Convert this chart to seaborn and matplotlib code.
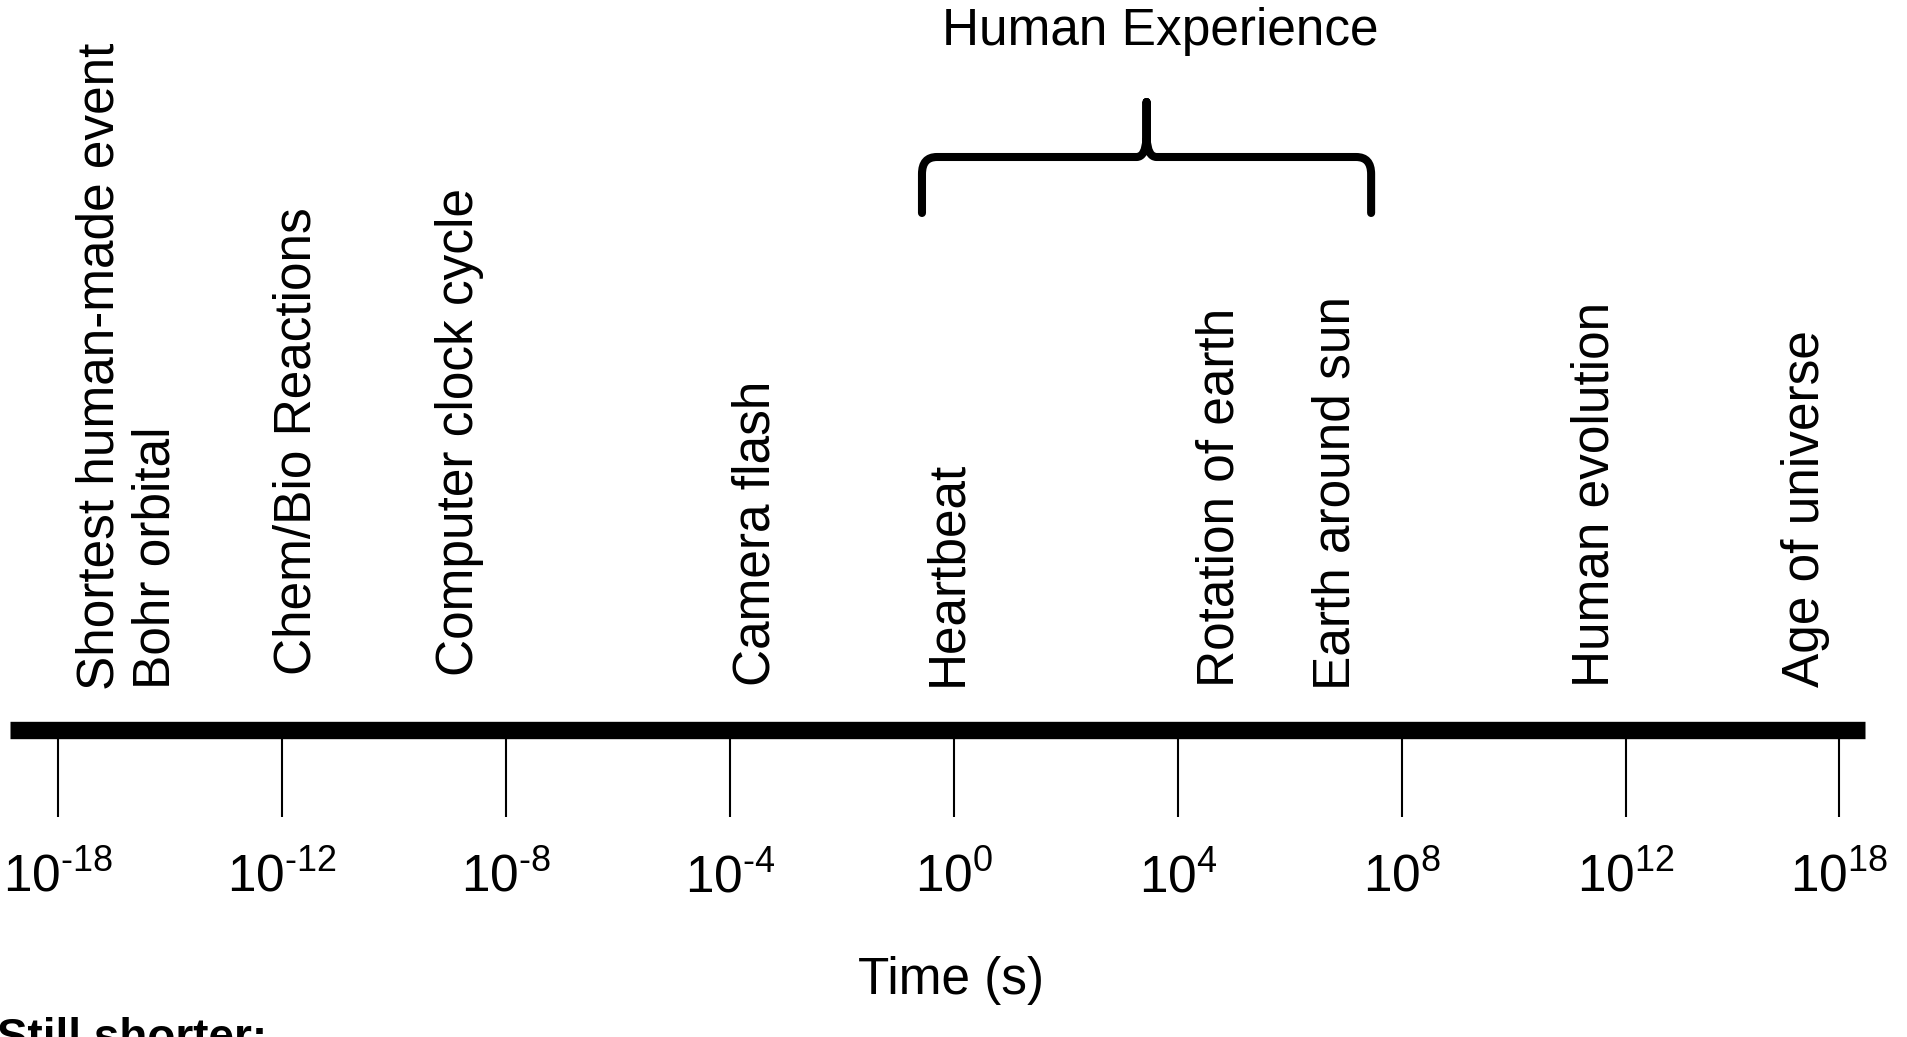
import matplotlib
matplotlib.use("Agg")
import matplotlib.pyplot as plt
import seaborn as sns
import pandas as pd
from matplotlib.path import Path
from matplotlib.patches import PathPatch

# ---------------- data ----------------
tick_exponents = [-18, -12, -8, -4, 0, 4, 8, 12, 18]
tick_slots = [0, 1, 2, 3, 4, 5, 6, 7, 7.953]          # schematic (non-uniform) slots
event_labels = ["Shortest human-made event", "Bohr orbital", "Chem/Bio Reactions",
                "Computer clock cycle", "Camera flash", "Heartbeat",
                "Rotation of earth", "Earth around sun", "Human evolution",
                "Age of universe"]
event_slots = [0.163, 0.414, 1.043, 1.771, 3.093, 3.951, 5.166, 5.684, 6.841, 7.783]
human_span = [3.857, 5.863]
brace_label = "Human Experience"
x_title = "Time (s)"
footnote = "Still shorter:"

# ---------------- layout ----------------
W, H = 1908, 1037
BAR_Y = 730                 # pixel row of the timeline bar
PX = 223.9                  # pixels per slot
X0 = 58.4                   # pixel x of slot 0
AX_L, AX_R = 10, 1865
event_base = [690, 689, 675, 676, 686, 686, 687, 690, 687, 687]
FS = 37

sns.set_theme(style="white")
plt.rcParams["font.family"] = ["Liberation Sans", "DejaVu Sans"]
plt.rcParams["mathtext.fontset"] = "custom"
plt.rcParams["mathtext.rm"] = "Liberation Sans"
plt.rcParams["mathtext.it"] = "Liberation Sans:italic"
plt.rcParams["mathtext.bf"] = "Liberation Sans:bold"


def power_label(e):
    sign = r"\text{-}" if e < 0 else ""
    return r"$\mathregular{10^{%s%d}}$" % (sign, abs(e))


fig = plt.figure(figsize=(W / 100, H / 100), dpi=100, facecolor="white")
ax = fig.add_axes([AX_L / W, 1 - BAR_Y / H, (AX_R - AX_L) / W, BAR_Y / H])
ax.set_facecolor("white")
xlim = ((AX_L - X0) / PX, (AX_R - X0) / PX)

# timeline bar
bar_df = pd.DataFrame({"slot": list(xlim), "y": [BAR_Y, BAR_Y]})
sns.lineplot(data=bar_df, x="slot", y="y", color="black", linewidth=12.5, ax=ax,
             sort=False, estimator=None)
for ln in ax.lines:
    ln.set_clip_on(False)
    ln.set_solid_capstyle("butt")

ax.set_xlim(*xlim)
ax.set_ylim(BAR_Y, 0)
for s in ax.spines.values():
    s.set_visible(False)
ax.set_yticks([])
ax.set_ylabel("")

# ticks & labels
ax.set_xticks(tick_slots, labels=[power_label(e) for e in tick_exponents])
ax.tick_params(axis="x", bottom=True, direction="out", length=62.6, width=1.5,
               color="black", pad=26, labelsize=FS, labelcolor="black")

ax.set_xlabel(x_title, fontsize=FS, color="black")
ax.xaxis.set_label_coords((951 - AX_L) / (AX_R - AX_L), (BAR_Y - 956) / BAR_Y)

# event labels (rotated)
for lab, slot, base in zip(event_labels, event_slots, event_base):
    ax.annotate(lab, xy=(slot, base), xytext=(13.3, 0), textcoords="offset points",
                rotation=90, rotation_mode="anchor", ha="left", va="baseline",
                fontsize=FS, color="black", annotation_clip=False)

# brace
L, R = human_span
M = (L + R) / 2
d = 1 / PX
verts = [(L, 213), (L, 174), (L, 157), (L + 15 * d, 157), (M - 10 * d, 157),
         (M - 1 * d, 157), (M, 138), (M, 102), (M, 138),
         (M + 1 * d, 157), (M + 10 * d, 157), (R - 15 * d, 157),
         (R, 157), (R, 174), (R, 213)]
codes = [Path.MOVETO, Path.LINETO, Path.CURVE3, Path.CURVE3, Path.LINETO,
         Path.CURVE3, Path.CURVE3, Path.LINETO, Path.LINETO,
         Path.CURVE3, Path.CURVE3, Path.LINETO,
         Path.CURVE3, Path.CURVE3, Path.LINETO]
ax.add_patch(PathPatch(Path(verts, codes), fill=False, lw=5.8, ec="black",
                       capstyle="round", joinstyle="round", clip_on=False))
ax.annotate(brace_label, xy=(M, 45), xytext=(9.7, 0), textcoords="offset points",
            ha="center", va="baseline", fontsize=FS, color="black",
            annotation_clip=False)

fig.text(-3 / W, 1 - 1017 / H, footnote, fontweight="bold", fontsize=33,
         va="top", ha="left", color="black")

fig.savefig("out.png", dpi=100, facecolor="white")
